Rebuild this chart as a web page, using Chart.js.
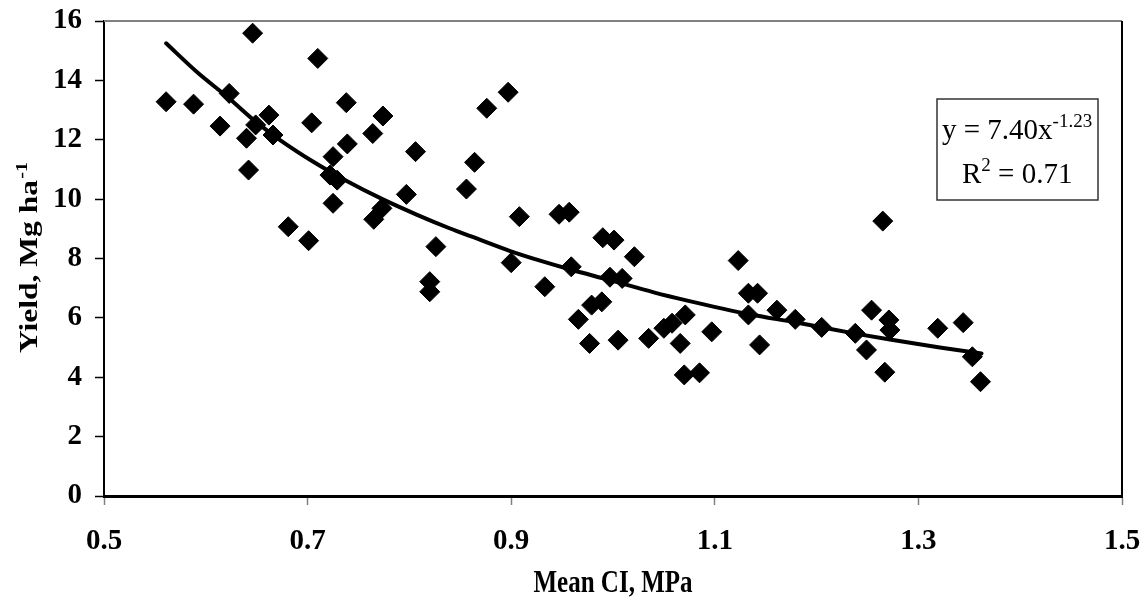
<!DOCTYPE html>
<html>
<head>
<meta charset="utf-8">
<title>Yield vs Mean CI</title>
<script src="https://cdn.jsdelivr.net/npm/chart.js@4/dist/chart.umd.min.js"></script>
<style>
  html, body { margin: 0; padding: 0; background: #fff; }
  #wrap { width: 1144px; height: 609px; position: relative; }
</style>
</head>
<body>
<div id="wrap"><canvas id="chart" width="1144" height="609"></canvas></div>
<script>
// measured points: mean cone index (MPa) and yield (Mg/ha)
const meanCI = [
  0.561, 0.588, 0.614, 0.623, 0.640, 0.642, 0.646, 0.649, 0.662, 0.666,
  0.681, 0.701, 0.704, 0.710, 0.722, 0.725, 0.725, 0.729, 0.738, 0.739,
  0.764, 0.765, 0.773, 0.774, 0.797, 0.806, 0.820, 0.820, 0.826, 0.856,
  0.864, 0.876, 0.897, 0.900, 0.908, 0.933, 0.947, 0.957, 0.959, 0.966,
  0.977, 0.979, 0.989, 0.990, 0.997, 1.001, 1.005, 1.009, 1.021, 1.035,
  1.050, 1.058, 1.066, 1.071, 1.070, 1.085, 1.097, 1.123, 1.133, 1.133,
  1.142, 1.144, 1.161, 1.179, 1.205, 1.238, 1.249, 1.254, 1.265, 1.267,
  1.271, 1.272, 1.319, 1.344, 1.353, 1.361
];
const yieldVals = [
  13.28, 13.20, 12.46, 13.56, 12.05, 10.98, 15.59, 12.50, 12.83, 12.16,
  9.07, 8.60, 12.57, 14.74, 10.81, 11.43, 9.86, 10.64, 13.25, 11.86,
  12.21, 9.32, 9.69, 12.80, 10.16, 11.60, 7.22, 6.88, 8.40, 10.34,
  11.24, 13.06, 13.60, 7.86, 9.41, 7.05, 9.49, 9.56, 7.72, 5.95,
  5.14, 6.43, 6.54, 8.70, 7.37, 8.62, 5.25, 7.33, 8.06, 5.31,
  5.65, 5.82, 5.14, 6.10, 4.08, 4.15, 5.53, 7.93, 6.83, 6.10,
  6.83, 5.09, 6.26, 5.95, 5.68, 5.48, 4.92, 6.26, 9.26, 4.17,
  5.93, 5.59, 5.65, 5.84, 4.69, 3.85
];

// power trendline
const curveX = [0.561, 0.591, 0.623, 0.649, 0.673, 0.706, 0.738, 0.774, 0.807, 0.840,
                0.860, 0.899, 0.930, 0.959, 0.997, 1.040, 1.072, 1.134, 1.179, 1.238,
                1.272, 1.321, 1.362];
const curveY = [15.25, 14.29, 13.39, 12.61, 11.99, 11.25, 10.62, 9.99, 9.48, 9.01,
                8.75, 8.25, 7.91, 7.62, 7.27, 6.86, 6.59, 6.12, 5.85, 5.47,
                5.27, 5.00, 4.80];

const xTicks = [0.5, 0.7, 0.9, 1.1, 1.3, 1.5];
const yTicks = [0, 2, 4, 6, 8, 10, 12, 14, 16];

const eqLine = 'y = 7.40x';
const eqExp = '-1.23';
const r2Label = ['R', '2', ' = 0.71'];
const xTitle = 'Mean CI, MPa';
const yTitle = ['Yield, Mg ha', '-1'];

const SERIF = "'Liberation Serif', 'Times New Roman', serif";

const extras = {
  id: 'extras',
  afterDatasetsDraw(chart) {
    const ctx = chart.ctx;
    const a = chart.chartArea;
    ctx.save();

    // plot frame (top grey, right black)
    ctx.strokeStyle = '#808080';
    ctx.lineWidth = 2;
    ctx.beginPath();
    ctx.moveTo(a.left, a.top);
    ctx.lineTo(a.right, a.top);
    ctx.stroke();
    ctx.strokeStyle = '#000';
    ctx.beginPath();
    ctx.moveTo(a.right, a.top);
    ctx.lineTo(a.right, a.bottom);
    ctx.stroke();

    // equation box
    ctx.fillStyle = '#fff';
    ctx.fillRect(937, 99, 161, 101);
    ctx.strokeStyle = '#333';
    ctx.lineWidth = 1.5;
    ctx.strokeRect(937, 99, 161, 101);

    ctx.fillStyle = '#000';
    ctx.textBaseline = 'alphabetic';
    ctx.textAlign = 'left';
    ctx.font = '29px ' + SERIF;
    ctx.fillText(eqLine, 942, 139);
    let w = ctx.measureText(eqLine).width;
    ctx.font = '19px ' + SERIF;
    ctx.fillText(eqExp, 942 + w, 127);

    ctx.font = '29px ' + SERIF;
    ctx.fillText(r2Label[0], 962, 183);
    w = ctx.measureText(r2Label[0]).width;
    ctx.font = '19px ' + SERIF;
    ctx.fillText(r2Label[1], 962 + w, 171);
    const w2 = ctx.measureText(r2Label[1]).width;
    ctx.font = '29px ' + SERIF;
    ctx.fillText(r2Label[2], 962 + w + w2, 183);

    // x title (titles in the original are drawn a bit tall)
    ctx.save();
    ctx.font = 'bold 25px ' + SERIF;
    ctx.textAlign = 'center';
    ctx.translate((a.left + a.right) / 2, 592);
    ctx.scale(1, 1.25);
    ctx.fillText(xTitle, 0, 0);
    ctx.restore();

    // y title, rotated, with superscript
    ctx.translate(37, 353);
    ctx.scale(1, 1.26);
    ctx.rotate(-Math.PI / 2);
    ctx.textAlign = 'left';
    ctx.font = 'bold 25px ' + SERIF;
    ctx.fillText(yTitle[0], 0, 0);
    w = ctx.measureText(yTitle[0]).width;
    ctx.font = 'bold 16px ' + SERIF;
    ctx.fillText(yTitle[1], w + 1, -10);

    ctx.restore();
  }
};

new Chart(document.getElementById('chart'), {
  type: 'scatter',
  data: {
    datasets: [{
      label: 'Yield',
      data: meanCI.map((x, i) => ({ x: x, y: yieldVals[i] })),
      pointStyle: 'rectRot',
      pointRadius: 10,
      pointBackgroundColor: '#000',
      pointBorderColor: '#000',
      pointBorderWidth: 1
    }, {
      type: 'line',
      label: 'Power fit',
      data: curveX.map((x, i) => ({ x: x, y: curveY[i] })),
      borderColor: '#000',
      borderWidth: 4,
      pointRadius: 0,
      fill: false,
      cubicInterpolationMode: 'monotone',
      borderCapStyle: 'round'
    }]
  },
  options: {
    responsive: false,
    animation: false,
    events: [],
    layout: { padding: { top: 21, right: 22, left: 0, bottom: 0 } },
    plugins: {
      legend: { display: false },
      tooltip: { enabled: false }
    },
    scales: {
      x: {
        type: 'linear',
        min: 0.5,
        max: 1.5,
        afterBuildTicks: s => { s.ticks = xTicks.map(v => ({ value: v })); },
        afterFit: s => { s.height = 113; s.paddingLeft = 0; s.paddingRight = 0; },
        ticks: {
          color: '#000',
          padding: 19,
          maxRotation: 0,
          font: { family: SERIF, size: 29, weight: 'bold' },
          callback: v => Number(v).toFixed(1)
        },
        grid: { drawOnChartArea: false, tickLength: 9, tickColor: '#808080', tickWidth: 1.5 },
        border: { color: '#000', width: 3 }
      },
      y: {
        type: 'linear',
        min: 0,
        max: 16,
        afterBuildTicks: s => { s.ticks = yTicks.map(v => ({ value: v })); },
        afterFit: s => { s.width = 104; s.paddingTop = 0; s.paddingBottom = 0; },
        ticks: {
          color: '#000',
          padding: 13,
          font: { family: SERIF, size: 29, weight: 'bold' }
        },
        grid: { drawOnChartArea: false, tickLength: 9, tickColor: '#000', tickWidth: 1.5 },
        border: { color: '#000', width: 2 }
      }
    }
  },
  plugins: [extras]
});
</script>
</body>
</html>
